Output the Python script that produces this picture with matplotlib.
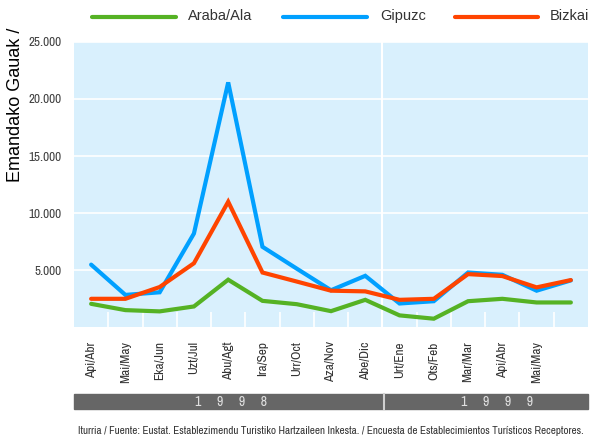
import matplotlib
matplotlib.use("Agg")
import matplotlib.pyplot as plt
from matplotlib.lines import Line2D
from matplotlib.patches import Rectangle
from matplotlib.ticker import FuncFormatter, FixedLocator

months = ["Api/Abr", "Mai/May", "Eka/Jun", "Uzt/Jul", "Abu/Agt", "Ira/Sep", "Urr/Oct",
          "Aza/Nov", "Abe/Dic", "Urt/Ene", "Ots/Feb", "Mar/Mar", "Api/Abr", "Mai/May", ""]
araba = [2070, 1520, 1410, 1840, 4180, 2330, 2040, 1430, 2420, 1060, 770, 2300, 2510, 2190, 2190]
gipuzkoa = [5500, 2850, 3080, 8220, 21440, 7060, 5150, 3260, 4520, 2100, 2300, 4810, 4610, 3220, 4120]
bizkaia = [2510, 2510, 3540, 5620, 11000, 4810, 4020, 3220, 3160, 2420, 2510, 4670, 4500, 3510, 4150]
series_names = ["Araba/Ala", "Gipuzc", "Bizkai"]
colors = ["#55B224", "#00A0FF", "#FF4400"]
years = ["1     9     9     8", "1     9     9     9"]
y_ticks = [5000, 10000, 15000, 20000, 25000]
ylabel = "Emandako Gauak /"
source = ("Iturria / Fuente: Eustat. Establezimendu Turistiko Hartzaileen Inkesta. / "
          "Encuesta de Establecimientos Turísticos Receptores.")

narrow = ["Archivo Narrow", "Liberation Sans Narrow", "DejaVu Sans"]
sans = ["Liberation Sans", "DejaVu Sans"]
W, H = 593, 440
fig = plt.figure(figsize=(W / 100, H / 100), dpi=100)
ax = fig.add_axes([74 / W, 1 - 327.5 / H, (588 - 74) / W, (327.5 - 41.7) / H])
ax.set_facecolor("#D9F0FD")
for s in ax.spines.values():
    s.set_visible(False)

n = len(months)
x = list(range(n))
for data, c in zip([araba, gipuzkoa, bizkaia], colors):
    ax.plot(x, data, color=c, lw=3.0, solid_capstyle="round", solid_joinstyle="miter", zorder=3)

ax.set_xlim(-0.5, n - 0.5)
ax.set_ylim(0, 25000)
ax.yaxis.set_major_locator(FixedLocator(y_ticks))
ax.yaxis.set_major_formatter(FuncFormatter(lambda v, p: f"{int(v):,}".replace(",", ".")))
ax.grid(axis="y", color="white", lw=1.2, zorder=1)
ax.tick_params(axis="y", length=0, pad=9, labelcolor="#404040", labelsize=9.5)
for lab in ax.get_yticklabels():
    lab.set_family(narrow)

# vertical year divider
ax.axvline(8.5, color="white", lw=1.5, zorder=1)

# x ticks: white inward ticks at category boundaries
ax.set_xticks([i + 0.5 for i in range(n - 1)])
ax.set_xticklabels([])
ax.tick_params(axis="x", which="major", direction="in", length=11, width=1.2, color="white")
ax.set_xticks(x, minor=True)
ax.set_xticklabels(months, minor=True, rotation=90, fontsize=9.5, color="#333333", family=narrow,
                   va="top")
ax.tick_params(axis="x", which="minor", length=0, pad=10)

# y label
fig.text(16 / W, 1 - 105 / H, ylabel, rotation=90, ha="center", va="center", fontsize=13,
         color="black", family=sans)

# legend
legend_pos = [(92, 176, 188), (283, 367, 380), (455, 538, 550)]
for (x0, x1, xt), name, c in zip(legend_pos, series_names, colors):
    fig.add_artist(Line2D([x0 / W, x1 / W], [1 - 17 / H, 1 - 17 / H], color=c, lw=3.0,
                          solid_capstyle="round", transform=fig.transFigure))
    fig.text(xt / W, 1 - 16 / H, name, ha="left", va="center", fontsize=10.5, color="#333333",
             family=sans)

# year band
fig.add_artist(Rectangle((74 / W, 1 - 409 / H), (588 - 74) / W, 15 / H, color="#666666",
                         transform=fig.transFigure, zorder=0))
fig.add_artist(Line2D([384 / W, 384 / W], [1 - 409 / H, 1 - 394 / H], color="#D0D0D0", lw=1.5,
                      transform=fig.transFigure))
for xc, yr in zip([231, 497], years):
    fig.text(xc / W, 1 - 401.5 / H, yr, ha="center", va="center", fontsize=10, color="#E0E0E0",
             family=narrow)

fig.text(331 / W, 1 - 431 / H, source, ha="center", va="center", fontsize=8, color="#333333",
         family=narrow)

fig.savefig("out.png", dpi=100)
